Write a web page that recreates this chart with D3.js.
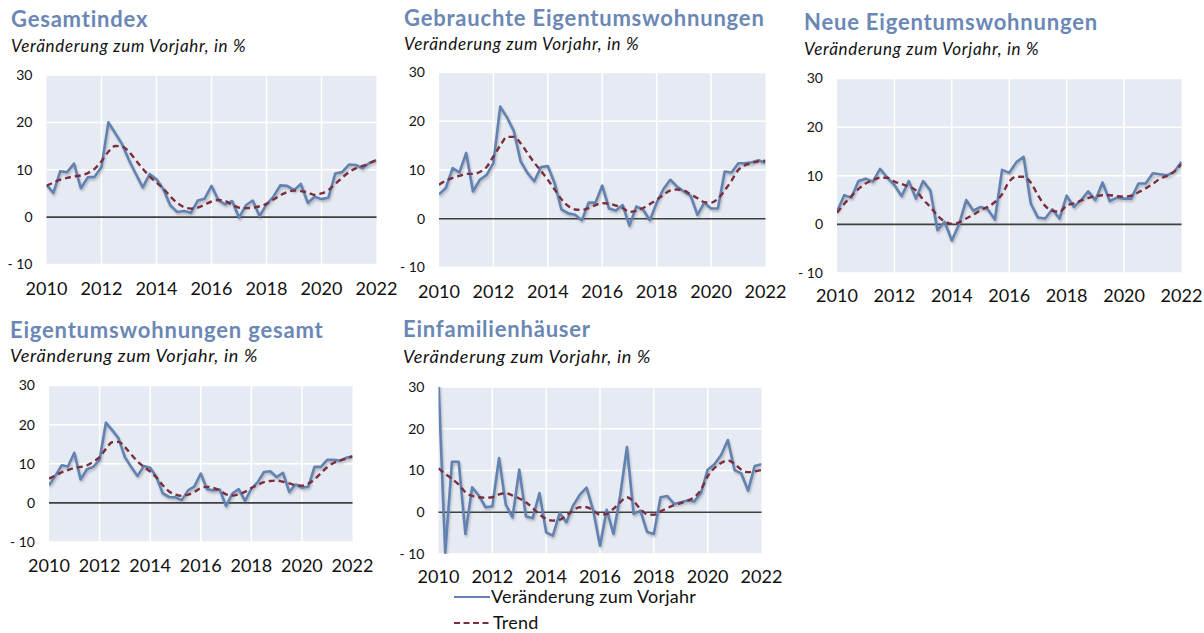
<!DOCTYPE html>
<html>
<head>
<meta charset="utf-8">
<script src="https://cdn.jsdelivr.net/npm/d3@7"></script>
<style>
  body { margin: 0; background: #fff; }
  svg { display: block; font-family: Lato, "Open Sans", sans-serif; }
  .title { font-weight: 700; fill: #6a87b5; font-size: 22px; letter-spacing: 0.8px; }
  .subtitle { font-style: italic; fill: #111; letter-spacing: 0.7px; }
  .ytick { fill: #111; font-size: 14px; }
  .xtick { fill: #111; font-size: 18px; }
  .legend { fill: #111; font-size: 18px; letter-spacing: 0.2px; }
</style>
</head>
<body>
<div id="container"></div>
<script>
// quarterly data, 2010 Q1 to 2022 Q1
var startYear = 2010;
var yearTicks = [2010, 2012, 2014, 2016, 2018, 2020, 2022];
var valueTicks = [30, 20, 10, 0, -10];
var valueTickLabels = ['30', '20', '10', '0', '- 10'];
var titles = ['Gesamtindex', 'Gebrauchte Eigentumswohnungen', 'Neue Eigentumswohnungen',
              'Eigentumswohnungen gesamt', 'Einfamilienhäuser'];
var subtitle = 'Veränderung zum Vorjahr, in %';
var legendLabels = ['Veränderung zum Vorjahr', 'Trend'];

var gesamtVeraenderung = [6.8, 5.1, 9.7, 9.5, 11.3, 6.1, 8.4, 8.5, 10.6, 20.0, 17.7, 15.4, 12.0, 9.1, 6.3, 9.1,
  8.0, 5.9, 2.5, 1.1, 1.3, 0.9, 3.5, 3.9, 6.6, 3.6, 2.7, 3.4, -0.1, 2.5, 3.5, 0.2,
  2.7, 4.3, 6.7, 6.6, 5.7, 7.0, 3.0, 4.3, 3.8, 4.1, 9.2, 9.5, 11.1, 11.0, 10.3, 11.5, 12.0];
var gesamtTrend = [6.6, 7.3, 7.9, 8.3, 8.6, 8.8, 9.3, 10.2, 11.8, 13.8, 15.0, 14.9, 13.8, 12.0, 10.2, 8.6,
  7.3, 6.0, 4.4, 3.0, 2.1, 1.8, 2.0, 2.6, 3.3, 3.6, 3.4, 2.6, 2.0, 1.9, 2.0, 2.3,
  2.8, 3.7, 4.6, 5.3, 5.6, 5.5, 5.2, 4.7, 5.0, 5.7, 7.0, 8.3, 9.5, 10.3, 10.8, 11.4, 12.0];

var gebrauchtVeraenderung = [5.0, 6.3, 10.4, 9.5, 13.5, 5.6, 8.0, 9.0, 11.4, 23.0, 20.8, 18.0, 11.8, 9.4, 7.7, 10.6,
  10.8, 7.3, 1.9, 1.1, 0.8, -0.3, 3.3, 3.3, 6.8, 2.1, 1.7, 2.8, -1.4, 2.5, 1.9, -0.3,
  3.3, 6.1, 8.0, 6.6, 5.6, 4.7, 0.8, 3.3, 2.1, 2.1, 9.7, 9.5, 11.4, 11.4, 11.6, 12.0, 11.4];
var gebrauchtTrend = [7.0, 7.8, 8.4, 8.8, 9.2, 9.2, 9.6, 10.6, 12.8, 15.0, 16.8, 16.8, 15.5, 13.5, 11.5, 9.8,
  8.0, 6.0, 4.0, 2.6, 1.9, 1.8, 2.2, 2.8, 3.2, 3.1, 2.7, 2.2, 1.4, 1.6, 2.2, 3.0,
  3.9, 4.9, 5.8, 6.0, 5.8, 5.0, 4.2, 3.4, 3.3, 4.1, 5.8, 7.8, 10.0, 11.0, 11.4, 11.8, 11.9];

var neuVeraenderung = [2.6, 6.0, 5.5, 8.9, 9.4, 8.8, 11.4, 9.6, 8.1, 5.8, 8.9, 5.3, 8.9, 7.0, -1.2, 0.5,
  -3.3, 0.0, 5.0, 2.8, 3.6, 3.1, 1.0, 11.2, 10.6, 12.8, 13.9, 4.3, 1.4, 1.2, 3.1, 1.2,
  5.9, 3.6, 5.0, 6.8, 5.0, 8.6, 4.8, 5.5, 5.3, 5.3, 8.4, 8.4, 10.5, 10.3, 10.1, 10.8, 12.9];
var neuTrend = [2.4, 4.2, 5.8, 7.3, 8.4, 9.1, 9.6, 9.6, 8.8, 8.3, 7.8, 7.0, 5.1, 3.6, 1.8, 0.6,
  0.1, 0.4, 1.2, 2.0, 2.9, 3.6, 4.6, 6.2, 8.8, 9.8, 9.8, 8.6, 6.0, 3.8, 2.8, 2.6,
  3.9, 4.3, 4.9, 5.4, 5.8, 6.0, 6.0, 5.8, 5.7, 5.9, 6.6, 7.4, 8.3, 9.4, 10.0, 10.9, 12.4];

var etwVeraenderung = [4.5, 6.9, 9.6, 9.3, 12.8, 6.0, 8.6, 9.2, 11.0, 20.5, 18.6, 16.5, 11.7, 9.2, 6.9, 9.4,
  9.0, 6.6, 2.4, 1.5, 1.4, 0.7, 3.2, 4.2, 7.5, 3.5, 3.2, 3.4, -0.8, 2.4, 3.5, 0.5,
  3.6, 5.3, 7.9, 8.1, 6.6, 7.7, 2.8, 4.7, 3.9, 4.1, 9.2, 9.2, 11.0, 11.0, 10.8, 11.5, 11.9];
var etwTrend = [6.2, 7.0, 7.8, 8.4, 8.9, 9.2, 9.6, 10.5, 11.7, 13.8, 15.5, 15.6, 14.3, 12.4, 10.6, 9.2,
  8.0, 6.5, 4.5, 2.9, 2.1, 1.8, 2.1, 2.8, 3.8, 4.1, 3.8, 3.2, 2.2, 1.9, 2.2, 2.8,
  3.8, 4.6, 5.3, 5.6, 5.7, 5.4, 5.0, 4.5, 4.4, 4.9, 6.0, 7.6, 9.1, 10.2, 10.8, 11.3, 11.9];

var efhVeraenderung = [31.0, -9.7, 12.1, 12.1, -5.2, 6.0, 4.0, 1.2, 1.4, 13.0, 1.8, -1.2, 10.2, -1.0, -1.4, 4.6,
  -4.8, -5.6, -0.2, -2.4, 1.6, 4.2, 5.9, 0.4, -8.0, 0.6, -5.2, 4.0, 15.6, -0.4, 0.4, -4.7,
  -5.2, 3.6, 3.9, 2.0, 2.4, 2.8, 2.6, 4.6, 10.2, 11.5, 13.7, 17.3, 10.1, 9.3, 5.2, 11.1, 11.5];
var efhTrend = [10.5, 9.2, 8.0, 6.6, 4.8, 3.9, 3.6, 3.5, 3.6, 4.3, 4.6, 4.0, 3.3, 2.4, 1.0, -0.5,
  -1.6, -2.0, -1.8, -0.8, 0.4, 1.2, 1.2, 0.4, -0.6, -0.4, 0.8, 2.4, 3.6, 2.6, 0.8, -0.5,
  -0.6, 0.2, 1.0, 1.7, 2.2, 2.8, 3.6, 5.4, 8.6, 10.6, 11.8, 12.4, 11.6, 10.2, 9.6, 9.8, 10.1];

var seriesChange = [gesamtVeraenderung, gebrauchtVeraenderung, neuVeraenderung, etwVeraenderung, efhVeraenderung];
var seriesTrend = [gesamtTrend, gebrauchtTrend, neuTrend, etwTrend, efhTrend];

// panel layout: plot box, title lines and axis label baselines
var panels = [
  {left: 46.5, right: 376.5, top: 75, bottom: 264.5, tx: 11, ty: 27, sy: 52, ss: 17, xl: 295},
  {left: 439, right: 765.5, top: 72.5, bottom: 267.5, tx: 404, ty: 26, sy: 50, ss: 17, xl: 298},
  {left: 837, right: 1181.5, top: 78.5, bottom: 273, tx: 804, ty: 30, sy: 55, ss: 17, xl: 302},
  {left: 49, right: 352.5, top: 385.5, bottom: 542, tx: 10, ty: 338, sy: 362, ss: 18, xl: 572},
  {left: 438.5, right: 761.5, top: 387, bottom: 554, tx: 403, ty: 337, sy: 363, ss: 18, xl: 583}
];

var blue = '#6282b2', maroon = '#7a2e3e';

var svg = d3.select('#container').append('svg')
  .attr('width', 1204)
  .attr('height', 633);

var defs = svg.append('defs');
var shadow = defs.append('filter').attr('id', 'shadow')
  .attr('x', '-5%').attr('y', '-5%').attr('width', '110%').attr('height', '115%');
shadow.append('feDropShadow')
  .attr('dx', 1).attr('dy', 2).attr('stdDeviation', 1.2)
  .attr('flood-color', '#555').attr('flood-opacity', 0.35);

panels.forEach(function(p, k) {
  var g = svg.append('g');

  var x = d3.scaleLinear().domain([2010, 2022]).range([p.left, p.right]);
  var y = d3.scaleLinear().domain([-10, 30]).range([p.bottom, p.top]);

  defs.append('clipPath').attr('id', 'clip' + k)
    .append('rect')
    .attr('x', p.left).attr('y', p.top)
    .attr('width', p.right - p.left).attr('height', p.bottom - p.top);

  // titles
  g.append('text').attr('class', 'title')
    .attr('x', p.tx).attr('y', p.ty)
    .text(titles[k]);
  g.append('text').attr('class', 'subtitle')
    .attr('x', p.tx).attr('y', p.sy)
    .style('font-size', p.ss + 'px')
    .text(subtitle);

  // background
  g.append('rect')
    .attr('x', p.left).attr('y', p.top)
    .attr('width', p.right - p.left).attr('height', p.bottom - p.top)
    .attr('fill', '#e6eaf2');

  // grid
  g.selectAll('.hgrid')
    .data(valueTicks.filter(function(d) { return d !== 0; }))
    .enter().append('line')
    .attr('x1', p.left).attr('x2', p.right)
    .attr('y1', function(d) { return y(d); })
    .attr('y2', function(d) { return y(d); })
    .attr('stroke', '#fff').attr('stroke-width', 1.5);
  g.selectAll('.vgrid')
    .data(yearTicks.slice(1, -1))
    .enter().append('line')
    .attr('x1', function(d) { return x(d); })
    .attr('x2', function(d) { return x(d); })
    .attr('y1', p.top).attr('y2', p.bottom)
    .attr('stroke', '#fff').attr('stroke-width', 1.5);

  // zero line
  g.append('line')
    .attr('x1', p.left).attr('x2', p.right)
    .attr('y1', y(0)).attr('y2', y(0))
    .attr('stroke', '#3f3f3f').attr('stroke-width', 1.6);

  // y labels
  g.selectAll('.ytick')
    .data(valueTicks)
    .enter().append('text')
    .attr('class', 'ytick')
    .attr('x', p.left - 14)
    .attr('y', function(d) { return y(d); })
    .attr('dy', '0.35em')
    .attr('text-anchor', 'end')
    .text(function(d, i) { return valueTickLabels[i]; });

  // x labels
  g.selectAll('.xtick')
    .data(yearTicks)
    .enter().append('text')
    .attr('class', 'xtick')
    .attr('x', function(d) { return x(d); })
    .attr('y', p.xl)
    .attr('text-anchor', 'middle')
    .text(function(d) { return d; });

  var line = d3.line()
    .x(function(d, i) { return x(startYear + i / 4); })
    .y(function(d) { return y(d); });
  var smooth = d3.line()
    .x(function(d, i) { return x(startYear + i / 4); })
    .y(function(d) { return y(d); })
    .curve(d3.curveMonotoneX);

  var plot = g.append('g').attr('clip-path', 'url(#clip' + k + ')');
  plot.append('path')
    .datum(seriesChange[k])
    .attr('d', line)
    .attr('fill', 'none')
    .attr('stroke', blue)
    .attr('stroke-width', 2.6)
    .attr('stroke-linejoin', 'round')
    .attr('filter', 'url(#shadow)');
  plot.append('path')
    .datum(seriesTrend[k])
    .attr('d', smooth)
    .attr('fill', 'none')
    .attr('stroke', maroon)
    .attr('stroke-width', 2.4)
    .attr('stroke-dasharray', '6,4');
});

// legend
var legend = svg.append('g').attr('transform', 'translate(454,0)');
legend.append('line')
  .attr('x1', 0).attr('x2', 36).attr('y1', 597).attr('y2', 597)
  .attr('stroke', blue).attr('stroke-width', 2);
legend.append('text').attr('class', 'legend')
  .attr('x', 37).attr('y', 603)
  .text(legendLabels[0]);
legend.append('line')
  .attr('x1', 0).attr('x2', 36).attr('y1', 623).attr('y2', 623)
  .attr('stroke', maroon).attr('stroke-width', 2)
  .attr('stroke-dasharray', '6,3.5');
legend.append('text').attr('class', 'legend')
  .attr('x', 39).attr('y', 628.5)
  .text(legendLabels[1]);
</script>
</body>
</html>
